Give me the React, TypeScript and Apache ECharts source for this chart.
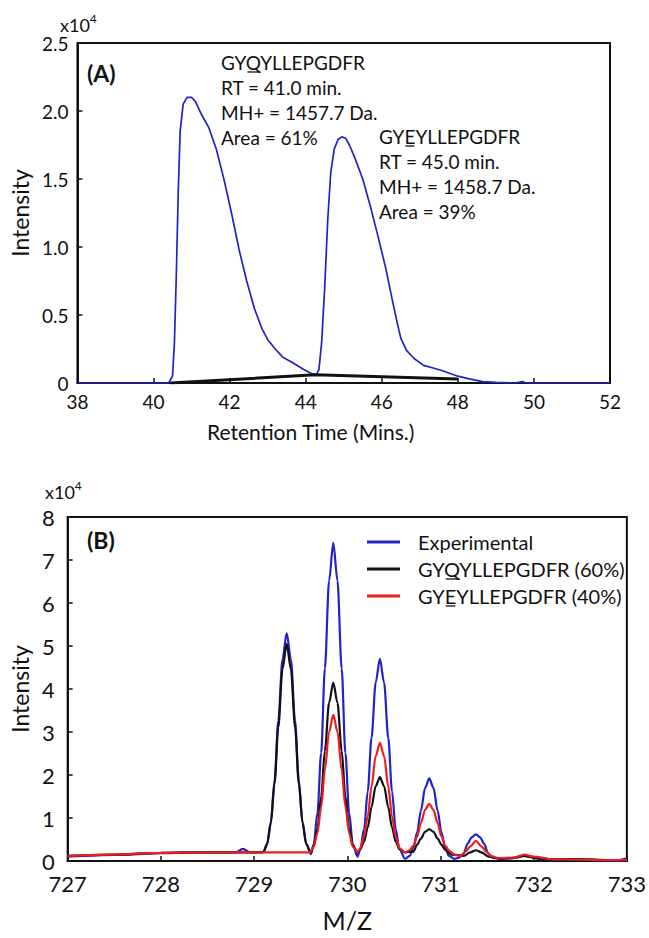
import React, { useEffect, useRef } from "react";
import * as echarts from "echarts";

const FONT = "Lato, 'Open Sans', sans-serif";
const BLUE = "#2222c8";
const RED = "#ee1c1c";
const BLACK = "#111111";

// ---------- Panel A: extracted ion chromatogram ----------
const rtTime = [38.0, 39.0, 40.0, 40.4, 40.5, 40.55, 40.6, 40.65, 40.7, 40.78, 40.88, 41.0, 41.1, 41.25, 41.45, 41.65, 41.85, 42.05, 42.25, 42.45, 42.65, 42.85, 43.0, 43.2, 43.4, 43.65, 43.95, 44.15, 44.28, 44.35, 44.42, 44.5, 44.58, 44.66, 44.75, 44.85, 44.95, 45.05, 45.15, 45.3, 45.5, 45.7, 45.9, 46.1, 46.27, 46.4, 46.5, 46.65, 46.85, 47.1, 47.35, 47.6, 47.8, 48.0, 48.3, 48.65, 49.0, 49.5, 49.7, 49.8, 52.0];
const rtIntensity = [0, 0, 0, 0, 0.05, 0.3, 0.8, 1.4, 1.85, 2.05, 2.1, 2.1, 2.07, 1.98, 1.88, 1.72, 1.5, 1.25, 0.98, 0.75, 0.55, 0.4, 0.32, 0.25, 0.19, 0.15, 0.1, 0.07, 0.06, 0.1, 0.3, 0.7, 1.2, 1.55, 1.72, 1.79, 1.81, 1.8, 1.75, 1.65, 1.5, 1.3, 1.08, 0.85, 0.62, 0.45, 0.33, 0.24, 0.18, 0.13, 0.11, 0.09, 0.07, 0.05, 0.03, 0.01, 0.005, 0, 0.01, 0, 0];
const baseTime = [40.45, 44.25, 48.0];
const baseIntensity = [0, 0.06, 0.03];

const aXTicks = { min: 38, max: 52, interval: 2 };
const aYTicks = { min: 0, max: 2.5, interval: 0.5 };

const peakQ = ["GYQYLLEPGDFR", "RT = 41.0 min.", "MH+ = 1457.7 Da.", "Area = 61%"];
const peakE = ["GYEYLLEPGDFR", "RT = 45.0 min.", "MH+ = 1458.7 Da.", "Area = 39%"];

// ---------- Panel B: isotope envelope ----------
const seriesNames = ["Experimental", "GYQYLLEPGDFR (60%)", "GYEYLLEPGDFR (40%)"];

const expMz = [727.0, 727.5, 728.0, 728.3, 728.6, 728.8, 728.88, 728.96, 729.1, 729.14, 729.18, 729.22, 729.26, 729.305, 729.35, 729.395, 729.44, 729.48, 729.52, 729.56, 729.61, 729.64, 729.68, 729.72, 729.76, 729.805, 729.85, 729.895, 729.94, 729.98, 730.02, 730.06, 730.11, 730.14, 730.18, 730.22, 730.26, 730.305, 730.35, 730.395, 730.44, 730.48, 730.52, 730.56, 730.62, 730.67, 730.71, 730.75, 730.79, 730.835, 730.88, 730.925, 730.97, 731.01, 731.05, 731.09, 731.15, 731.2, 731.25, 731.29, 731.335, 731.38, 731.425, 731.47, 731.51, 731.56, 731.64, 731.75, 731.88, 731.95, 732.05, 732.2, 732.5, 732.7, 732.9, 732.98, 733.0];
const expInt = [0.1, 0.14, 0.18, 0.2, 0.2, 0.2, 0.28, 0.2, 0.2, 0.4, 0.91, 1.88, 3.26, 4.69, 5.3, 4.69, 3.26, 1.88, 0.91, 0.4, 0.16, 0.39, 1.12, 2.51, 4.48, 6.52, 7.4, 6.52, 4.48, 2.51, 1.12, 0.39, 0.1, 0.28, 0.74, 1.62, 2.86, 4.15, 4.7, 4.15, 2.86, 1.62, 0.74, 0.28, 0.05, 0.12, 0.31, 0.67, 1.17, 1.7, 1.92, 1.7, 1.17, 0.67, 0.31, 0.12, 0.05, 0.08, 0.18, 0.4, 0.55, 0.62, 0.55, 0.4, 0.18, 0.08, 0.05, 0.06, 0.12, 0.1, 0.05, 0.03, 0.04, 0.02, 0.01, 0.05, 0.04];

const qMz = [727.0, 727.5, 728.0, 728.5, 729.0, 729.1, 729.14, 729.18, 729.22, 729.26, 729.305, 729.35, 729.395, 729.44, 729.48, 729.52, 729.56, 729.61, 729.64, 729.68, 729.72, 729.76, 729.805, 729.85, 729.895, 729.94, 729.98, 730.02, 730.06, 730.11, 730.14, 730.18, 730.22, 730.26, 730.305, 730.35, 730.395, 730.44, 730.48, 730.52, 730.56, 730.62, 730.71, 730.75, 730.79, 730.835, 730.88, 730.925, 730.97, 731.01, 731.05, 731.12, 731.25, 731.32, 731.38, 731.44, 731.52, 731.62, 731.8, 731.9, 732.0, 732.2, 732.5, 732.8, 733.0];
const qInt = [0.12, 0.15, 0.19, 0.2, 0.2, 0.21, 0.39, 0.88, 1.8, 3.11, 4.47, 5.05, 4.47, 3.11, 1.8, 0.88, 0.39, 0.2, 0.36, 0.75, 1.5, 2.57, 3.68, 4.15, 3.68, 2.57, 1.5, 0.75, 0.36, 0.2, 0.27, 0.45, 0.78, 1.25, 1.74, 1.95, 1.74, 1.25, 0.78, 0.45, 0.27, 0.2, 0.22, 0.38, 0.52, 0.68, 0.74, 0.68, 0.52, 0.38, 0.26, 0.15, 0.12, 0.2, 0.25, 0.2, 0.1, 0.06, 0.07, 0.12, 0.08, 0.04, 0.04, 0.02, 0.02];

const eMz = [727.0, 727.5, 728.0, 728.5, 729.0, 729.6, 729.64, 729.68, 729.72, 729.76, 729.805, 729.85, 729.895, 729.94, 729.98, 730.02, 730.06, 730.11, 730.14, 730.18, 730.22, 730.26, 730.305, 730.35, 730.395, 730.44, 730.48, 730.52, 730.56, 730.62, 730.67, 730.71, 730.75, 730.79, 730.835, 730.88, 730.925, 730.97, 731.01, 731.05, 731.09, 731.15, 731.22, 731.27, 731.32, 731.38, 731.44, 731.49, 731.54, 731.62, 731.8, 731.9, 732.0, 732.2, 732.5, 732.8, 733.0];
const eInt = [0.12, 0.15, 0.19, 0.2, 0.2, 0.2, 0.33, 0.65, 1.26, 2.12, 3.0, 3.4, 3.0, 2.12, 1.26, 0.65, 0.33, 0.21, 0.3, 0.56, 1.04, 1.73, 2.44, 2.75, 2.44, 1.73, 1.04, 0.56, 0.3, 0.2, 0.25, 0.36, 0.57, 0.88, 1.19, 1.33, 1.19, 0.88, 0.57, 0.36, 0.25, 0.15, 0.12, 0.22, 0.34, 0.47, 0.34, 0.22, 0.12, 0.07, 0.08, 0.15, 0.1, 0.04, 0.03, 0.02, 0.02];

const bXTicks = { min: 727, max: 733, interval: 1 };
const bYTicks = { min: 0, max: 8, interval: 1 };

const zip = (xs: number[], ys: number[]) => xs.map((x, i) => [x, ys[i]]);

function measure(text: string, size: number, weight = "normal") {
  const c = document.createElement("canvas").getContext("2d");
  if (!c) return text.length * size * 0.5;
  c.font = `${weight} ${size}px ${FONT}`;
  return c.measureText(text).width;
}

export default function App() {
  const ref = useRef<HTMLDivElement>(null);

  useEffect(() => {
    if (!ref.current) return;
    const chart = echarts.init(ref.current, undefined, { renderer: "svg" });

    const axisCommon = {
      type: "value" as const,
      axisLine: { show: true, lineStyle: { color: BLACK, width: 2 } },
      axisTick: { show: true, inside: true, length: 5, lineStyle: { color: BLACK, width: 1.5 } },
      splitLine: { show: false },
      nameLocation: "middle" as const,
    };

    const annSize = 19;
    const annLine = 25;
    const annotation = (lines: string[], x: number, y0: number, ul: number) => {
      const els: any[] = lines.map((t, i) => ({
        type: "text",
        x,
        y: y0 + i * annLine,
        style: { text: t, fontSize: annSize, fontFamily: FONT, fill: BLACK, verticalAlign: "middle" },
      }));
      const pre = measure(lines[0].slice(0, ul), annSize);
      const w = measure(lines[0].charAt(ul), annSize);
      els.push({
        type: "line",
        shape: { x1: x + pre + 1, y1: y0 + 10, x2: x + pre + w - 1, y2: y0 + 10 },
        style: { stroke: BLACK, lineWidth: 1.3 },
      });
      return els;
    };

    // legend geometry (panel B)
    const legLeft = 367;
    const legTop = 531;
    const legIconW = 33;
    const legTextPad = 13;
    const legRowH = 22;
    const legGap = 5;
    const legSize = 20;
    const legTextX = legLeft + legIconW + 5 + legTextPad;
    const legendUnderlines = [1, 2].map((i) => {
      const pre = measure(seriesNames[i].slice(0, 2), legSize);
      const w = measure(seriesNames[i].charAt(2), legSize);
      const cy = legTop + legRowH / 2 + i * (legRowH + legGap);
      return {
        type: "line",
        shape: { x1: legTextX + pre + 1, y1: cy + 10, x2: legTextX + pre + w - 1, y2: cy + 10 },
        style: { stroke: BLACK, lineWidth: 1.3 },
      };
    });

    const exponent = (x: number, y: number) => ({
      type: "text",
      x,
      y,
      style: {
        text: "{a|x10}{b|4}",
        fill: BLACK,
        verticalAlign: "middle",
        rich: {
          a: { fontSize: 18, fontFamily: FONT, lineHeight: 22, verticalAlign: "bottom" },
          b: { fontSize: 12, fontFamily: FONT, lineHeight: 22, verticalAlign: "top" },
        },
      },
    });

    const lineB = (name: string, mz: number[], val: number[], color: string) => ({
      name,
      type: "line",
      xAxisIndex: 1,
      yAxisIndex: 1,
      data: zip(mz, val),
      symbol: "none",
      smooth: 0.3,
      smoothMonotone: "x",
      color,
      lineStyle: { color, width: 2.2 },
    });

    const option: any = {
      animation: false,
      textStyle: { fontFamily: FONT },
      grid: [
        { left: 72, top: 43, width: 538, height: 340, show: true, borderColor: BLACK, borderWidth: 2 },
        { left: 65, top: 517, width: 563, height: 344, show: true, borderColor: BLACK, borderWidth: 2 },
      ],
      xAxis: [
        {
          ...axisCommon,
          gridIndex: 0,
          ...aXTicks,
          axisLabel: { fontSize: 19, color: BLACK, margin: 9, fontFamily: FONT, showMinLabel: true, showMaxLabel: true },
          name: "Retention Time (Mins.)",
          nameGap: 38,
          nameTextStyle: { fontSize: 21, color: BLACK, fontFamily: FONT, padding: [0, 66, 0, 0] },
        },
        {
          ...axisCommon,
          gridIndex: 1,
          ...bXTicks,
          axisLabel: { fontSize: 22, color: BLACK, margin: 11, fontFamily: FONT, showMinLabel: true, showMaxLabel: true },
          name: "M/Z",
          nameGap: 46,
          nameTextStyle: { fontSize: 25, color: BLACK, fontFamily: FONT },
        },
      ],
      yAxis: [
        {
          ...axisCommon,
          gridIndex: 0,
          ...aYTicks,
          axisLabel: {
            fontSize: 19,
            color: BLACK,
            margin: 9,
            fontFamily: FONT,
            showMinLabel: true,
            showMaxLabel: true,
            formatter: (v: number) => (v === 0 ? "0" : v.toFixed(1)),
          },
          name: "Intensity",
          nameGap: 42,
          nameTextStyle: { fontSize: 23, color: BLACK, fontFamily: FONT },
        },
        {
          ...axisCommon,
          gridIndex: 1,
          ...bYTicks,
          axisLabel: { fontSize: 22, color: BLACK, margin: 13, fontFamily: FONT, showMinLabel: true, showMaxLabel: true },
          name: "Intensity",
          nameGap: 34,
          nameTextStyle: { fontSize: 23, color: BLACK, fontFamily: FONT },
        },
      ],
      legend: {
        data: seriesNames,
        orient: "vertical",
        left: legLeft,
        top: legTop,
        padding: 0,
        itemGap: legGap,
        itemWidth: legIconW,
        itemHeight: 3,
        icon: "rect",
        textStyle: { fontSize: legSize, color: BLACK, fontFamily: FONT, lineHeight: legRowH, padding: [0, 0, 0, legTextPad] },
      },
      series: [
        {
          type: "line",
          xAxisIndex: 0,
          yAxisIndex: 0,
          data: zip(rtTime, rtIntensity),
          symbol: "none",
          lineStyle: { color: BLUE, width: 1.7 },
          z: 3,
        },
        {
          type: "line",
          xAxisIndex: 0,
          yAxisIndex: 0,
          data: zip(baseTime, baseIntensity),
          symbol: "none",
          lineStyle: { color: BLACK, width: 3 },
          z: 4,
        },
        lineB(seriesNames[0], expMz, expInt, BLUE),
        lineB(seriesNames[1], qMz, qInt, BLACK),
        lineB(seriesNames[2], eMz, eInt, RED),
      ],
      graphic: [
        exponent(60, 23),
        exponent(45, 490),
        { type: "text", x: 87, y: 73, style: { text: "(A)", fontSize: 23, fontWeight: "bold", fontFamily: FONT, fill: BLACK, verticalAlign: "middle" } },
        { type: "text", x: 87, y: 540, style: { text: "(B)", fontSize: 23, fontWeight: "bold", fontFamily: FONT, fill: BLACK, verticalAlign: "middle" } },
        ...annotation(peakQ, 221, 62, 2),
        ...annotation(peakE, 379, 136, 2),
        ...legendUnderlines,
      ],
    };

    chart.setOption(option);
    return () => chart.dispose();
  }, []);

  return (
    <div
      ref={ref}
      style={{ position: "absolute", left: 0, top: 0, width: 649, height: 938, background: "#fff" }}
    />
  );
}
